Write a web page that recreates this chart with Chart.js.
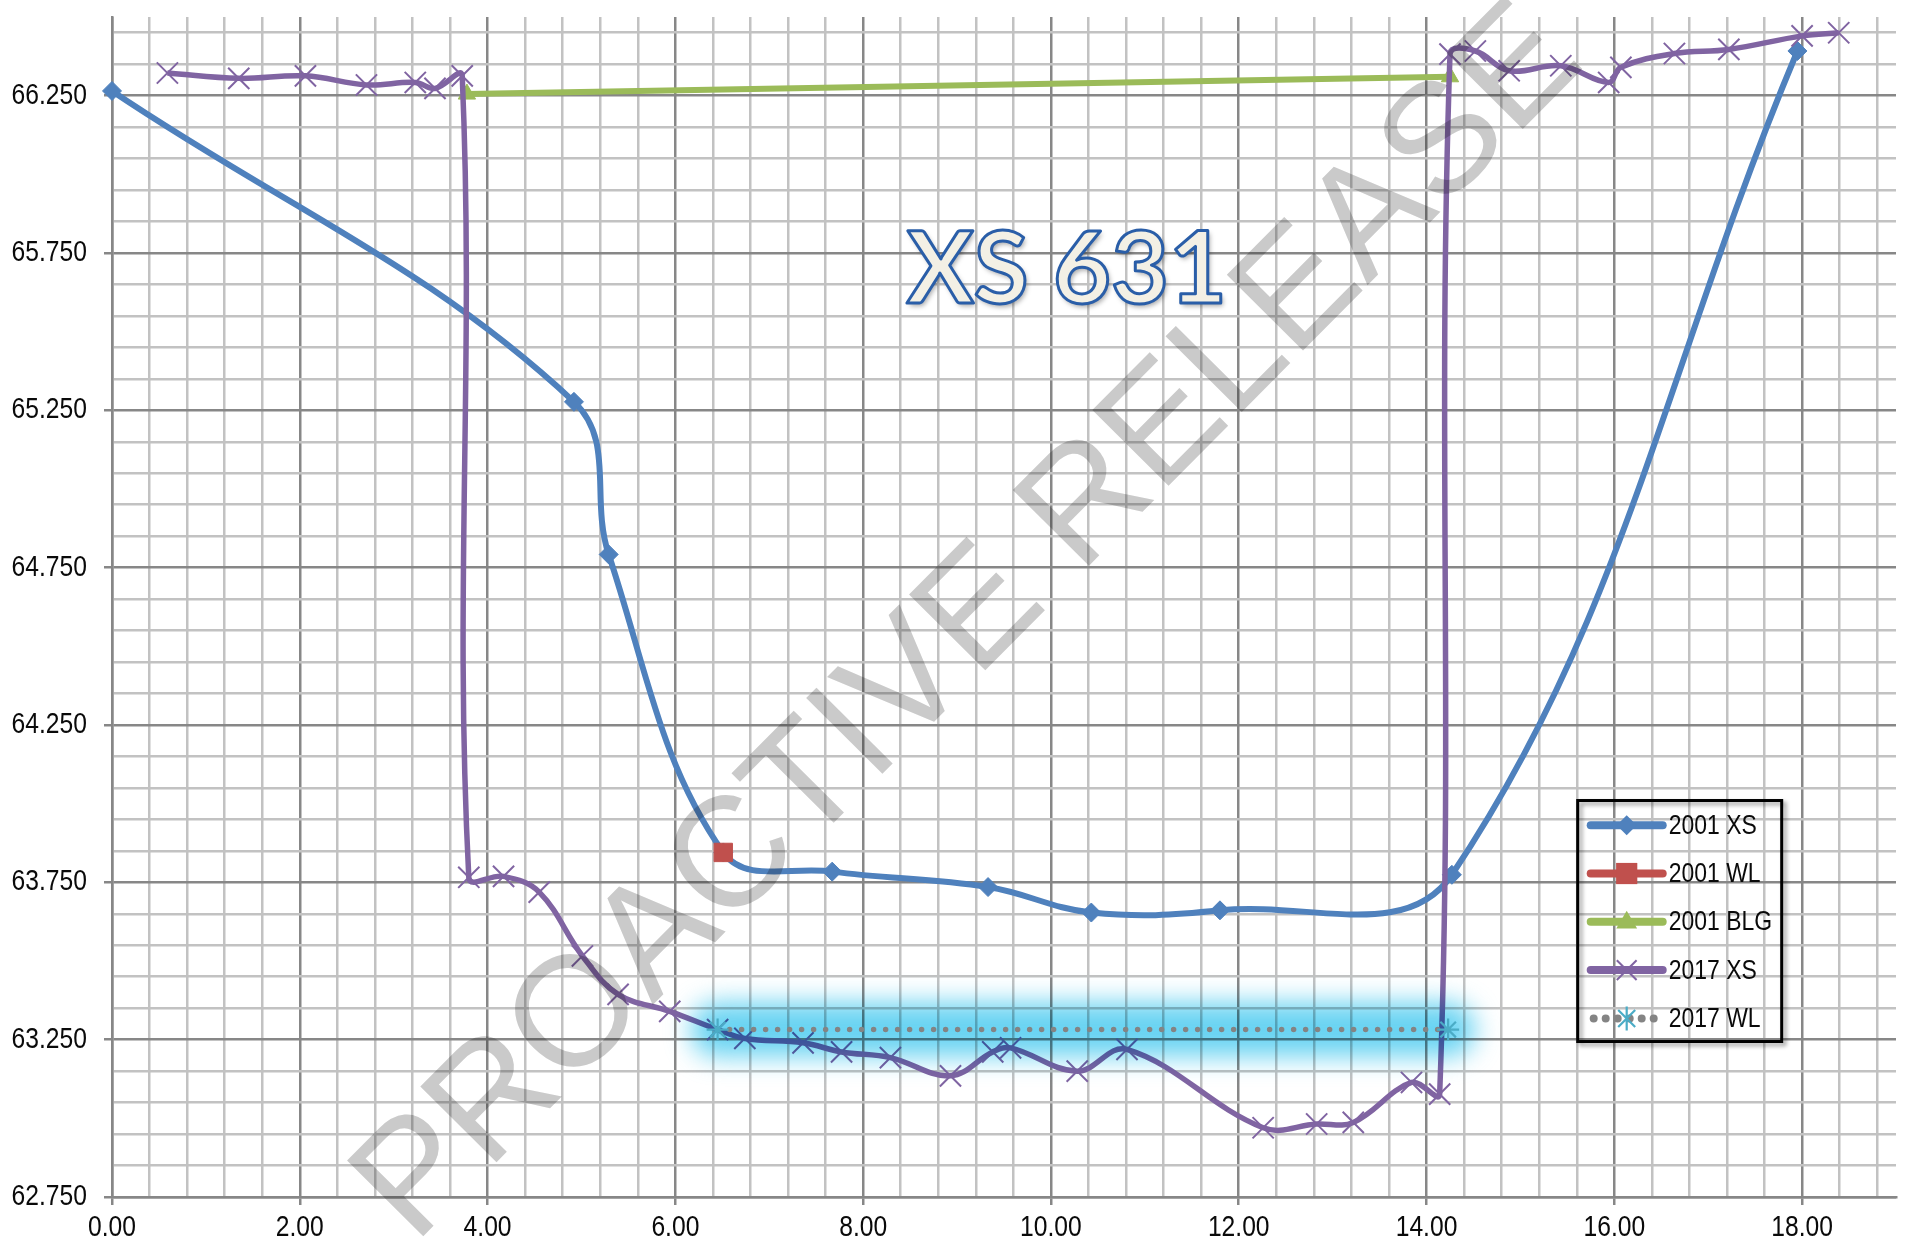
<!DOCTYPE html>
<html>
<head>
<meta charset="utf-8">
<title>XS 631</title>
<script src="https://cdn.jsdelivr.net/npm/chart.js@4.4.1/dist/chart.umd.min.js"></script>
<style>
    html, body { margin: 0; padding: 0; background: #ffffff; }
    #wrap { width: 1925px; height: 1248px; position: relative; }
</style>
</head>
<body>
<div id="wrap"><canvas id="grafico" width="1925" height="1248"></canvas></div>
<script>
// 2001 cross section (blue diamonds)
const xs2001X = [0.00, 4.92, 5.29, 6.51, 7.67, 9.33, 10.43, 11.80, 14.27, 17.95];
const xs2001Y = [66.265, 65.277, 64.792, 63.845, 63.784, 63.735, 63.654, 63.661, 63.774, 66.392];

// 2001 water level (red square)
const wl2001X = [6.51];
const wl2001Y = [63.845];

// 2001 bank level (green)
const blg2001X = [3.78, 14.25];
const blg2001Y = [66.255, 66.31];

// 2017 cross section (purple crosses)
const xs2017X = [0.59, 1.35, 2.06, 2.71, 3.23, 3.44, 3.73, 3.80, 4.17, 4.55, 5.01, 5.39, 5.94, 6.45,
    6.74, 7.36, 7.77, 8.29, 8.93, 9.38, 9.57, 10.28, 10.81, 12.26, 12.83, 13.22, 13.84, 14.14,
    14.25, 14.52, 14.88, 15.43, 15.94, 16.07, 16.64, 17.22, 18.00, 18.39];
const xs2017Y = [66.322, 66.305, 66.313, 66.284, 66.292, 66.273, 66.313, 63.766, 63.769, 63.719, 63.516, 63.394, 63.340, 63.282,
    63.254, 63.240, 63.211, 63.193, 63.135, 63.211, 63.224, 63.150, 63.219, 62.970, 62.982, 62.987, 63.114, 63.077,
    66.382, 66.392, 66.329, 66.345, 66.292, 66.340, 66.384, 66.397, 66.440, 66.450];

// 2017 water level (dotted)
const wl2017X = [6.45, 14.23];
const wl2017Y = [63.282, 63.282];

// eixos
const xTickLabels = ['0.00', '2.00', '4.00', '6.00', '8.00', '10.00', '12.00', '14.00', '16.00', '18.00'];
const yTickLabels = ['62.750', '63.250', '63.750', '64.250', '64.750', '65.250', '65.750', '66.250'];
const xMin = 0, xMax = 19, xMinorStep = 0.4;
const yMin = 62.75, yMax = 66.5, yMinorStep = 0.1;

const corMaior = '#878787';
const corMenor = '#c2c2c2';
const fonteTexto = "'Liberation Sans', Arial, sans-serif";

function pontos(xs, ys) {
    return xs.map((x, i) => ({ x: x, y: ys[i] }));
}

function ehMaior(valor, labels) {
    return labels.some(l => Math.abs(parseFloat(l) - valor) < 1e-6);
}

function montaTicks(min, max, passo) {
    const ticks = [];
    for (let k = 0; min + k * passo < max - 1e-6; k++) {
        ticks.push({ value: Math.round((min + k * passo) * 1e6) / 1e6 });
    }
    return ticks;
}

// texto estreito (a fonte do original e condensada)
function textoEstreito(ctx, texto, x, y, alinhamento, tamanho) {
    ctx.save();
    ctx.translate(x, y);
    ctx.scale(0.85, 1);
    ctx.font = tamanho + 'px ' + fonteTexto;
    ctx.fillStyle = '#0a0a0a';
    ctx.textAlign = alinhamento;
    ctx.textBaseline = 'middle';
    ctx.fillText(texto, 0, 0);
    ctx.restore();
}

function marcador(ctx, estilo, raio, x, y, cor, espessura) {
    ctx.save();
    ctx.fillStyle = cor;
    ctx.strokeStyle = cor;
    ctx.lineWidth = espessura;
    ctx.beginPath();
    if (estilo === 'rectRot') {
        ctx.moveTo(x, y - raio); ctx.lineTo(x + raio, y); ctx.lineTo(x, y + raio); ctx.lineTo(x - raio, y);
        ctx.closePath(); ctx.fill();
    } else if (estilo === 'rect') {
        const s = raio * Math.SQRT1_2;
        ctx.rect(x - s, y - s, 2 * s, 2 * s); ctx.fill();
    } else if (estilo === 'triangle') {
        ctx.moveTo(x, y - raio); ctx.lineTo(x + raio * 0.95, y + raio * 0.6); ctx.lineTo(x - raio * 0.95, y + raio * 0.6);
        ctx.closePath(); ctx.fill();
    } else if (estilo === 'crossRot') {
        const d = raio * Math.SQRT1_2;
        ctx.moveTo(x - d, y - d); ctx.lineTo(x + d, y + d);
        ctx.moveTo(x - d, y + d); ctx.lineTo(x + d, y - d);
        ctx.stroke();
    } else if (estilo === 'star') {
        const d = raio * Math.SQRT1_2;
        ctx.moveTo(x - d, y - d); ctx.lineTo(x + d, y + d);
        ctx.moveTo(x - d, y + d); ctx.lineTo(x + d, y - d);
        ctx.moveTo(x, y - raio); ctx.lineTo(x, y + raio);
        ctx.stroke();
    }
    ctx.restore();
}

const efeitos = {
    id: 'efeitos',
    beforeDatasetDraw(chart, args) {
        const ds = chart.data.datasets[args.index];
        if (ds.brilho) {
            chart.ctx.save();
            chart.ctx.filter = 'blur(13px)';
            chart.ctx.globalCompositeOperation = 'multiply';
        }
    },
    afterDatasetDraw(chart, args) {
        if (chart.data.datasets[args.index].brilho) chart.ctx.restore();
    },
    afterDatasetsDraw(chart) {
        const ctx = chart.ctx;
        const sx = chart.scales.x, sy = chart.scales.y;
        const area = chart.chartArea;

        // rotulos dos eixos
        xTickLabels.forEach(l => textoEstreito(ctx, l, sx.getPixelForValue(parseFloat(l)), area.bottom + 31, 'center', 29));
        yTickLabels.forEach(l => textoEstreito(ctx, l, area.left - 25, sy.getPixelForValue(parseFloat(l)), 'right', 29));

        // marca d'agua
        ctx.save();
        ctx.globalCompositeOperation = 'multiply';
        ctx.translate(sx.getPixelForValue(9.14), sy.getPixelForValue(64.57));
        ctx.rotate(-45.2 * Math.PI / 180);
        ctx.font = "156px " + fonteTexto;
        ctx.fillStyle = '#cacaca';
        ctx.textAlign = 'center';
        ctx.textBaseline = 'middle';
        ctx.fillText('PROACTIVE RELEASE', 0, 0);
        ctx.restore();

        // titulo
        ctx.save();
        ctx.font = "bold 100px Lato, 'Open Sans', sans-serif";
        ctx.textAlign = 'center';
        ctx.textBaseline = 'alphabetic';
        const tx = sx.getPixelForValue(10.17), ty = sy.getPixelForValue(65.59);
        ctx.shadowColor = 'rgba(0,0,0,0.35)';
        ctx.shadowBlur = 5;
        ctx.shadowOffsetX = 2;
        ctx.shadowOffsetY = 3;
        ctx.fillStyle = '#f3f0e5';
        ctx.fillText('XS 631', tx, ty);
        ctx.shadowColor = 'transparent';
        ctx.lineWidth = 3;
        ctx.strokeStyle = '#2a5ea8';
        ctx.lineJoin = 'round';
        ctx.strokeText('XS 631', tx, ty);
        ctx.restore();

        // legenda
        const esq = sx.getPixelForValue(15.61), topo = sy.getPixelForValue(64.01);
        const larg = 204, alt = 241;
        ctx.save();
        ctx.shadowColor = 'rgba(0,0,0,0.4)';
        ctx.shadowBlur = 4;
        ctx.shadowOffsetX = 3;
        ctx.shadowOffsetY = 3;
        ctx.lineWidth = 3;
        ctx.strokeStyle = '#000';
        ctx.strokeRect(esq, topo, larg, alt);
        ctx.restore();

        const itens = chart.data.datasets.filter(d => !d.brilho);
        itens.forEach((d, i) => {
            const cy = topo + 24.7 + i * 48.3;
            ctx.save();
            ctx.lineCap = 'round';
            ctx.strokeStyle = d.borderColor;
            ctx.lineWidth = 8;
            if (d.borderDash) {
                ctx.setLineDash([0, 12]);
                ctx.beginPath(); ctx.moveTo(esq + 16, cy); ctx.lineTo(esq + 85, cy); ctx.stroke();
            } else {
                ctx.beginPath(); ctx.moveTo(esq + 13, cy); ctx.lineTo(esq + 85, cy); ctx.stroke();
            }
            ctx.restore();
            marcador(ctx, d.pointStyle, d.legendaRaio, esq + 49, cy, d.pointBorderColor, d.pointBorderWidth);
            textoEstreito(ctx, d.label, esq + 91, cy + 1, 'left', 27);
        });
    }
};

const ctx = document.getElementById('grafico').getContext('2d');
const chart = new Chart(ctx, {
    type: 'line',
    data: {
        datasets: [
            {
                label: '2001 XS',
                data: pontos(xs2001X, xs2001Y),
                borderColor: '#4f81bd', backgroundColor: '#4f81bd',
                borderWidth: 6, tension: 0.38, clip: false,
                pointStyle: 'rectRot', pointRadius: 9.5, pointBorderColor: '#4f81bd', pointBackgroundColor: '#4f81bd', pointBorderWidth: 1,
                legendaRaio: 10, order: 6
            },
            {
                label: '2001 WL',
                data: pontos(wl2001X, wl2001Y),
                borderColor: '#c0504d', backgroundColor: '#c0504d',
                borderWidth: 6, clip: false,
                pointStyle: 'rect', pointRadius: 13, pointBorderColor: '#c0504d', pointBackgroundColor: '#c0504d', pointBorderWidth: 1,
                legendaRaio: 15, order: 5
            },
            {
                label: '2001 BLG',
                data: pontos(blg2001X, blg2001Y),
                borderColor: '#9bbb59', backgroundColor: '#9bbb59',
                borderWidth: 6, tension: 0, clip: false,
                pointStyle: 'triangle', pointRadius: 10, pointBorderColor: '#9bbb59', pointBackgroundColor: '#9bbb59', pointBorderWidth: 1,
                legendaRaio: 11, order: 4
            },
            {
                label: '2017 XS',
                data: pontos(xs2017X, xs2017Y),
                borderColor: '#8064a2', backgroundColor: '#8064a2',
                borderWidth: 5.5, tension: 0.38, clip: false,
                pointStyle: 'crossRot', pointRadius: 15, pointBorderColor: '#8064a2', pointBorderWidth: 2,
                legendaRaio: 14, order: 3
            },
            {
                label: '',
                brilho: true,
                data: pontos(wl2017X, wl2017Y),
                borderColor: 'rgba(40, 192, 236, 0.7)',
                borderWidth: 54, borderCapStyle: 'round', tension: 0,
                pointRadius: 0, order: 1
            },
            {
                label: '2017 WL',
                data: pontos(wl2017X, wl2017Y),
                borderColor: '#848484', backgroundColor: '#848484',
                borderWidth: 5.5, borderDash: [0, 12], borderCapStyle: 'round', tension: 0, clip: false,
                pointStyle: 'star', pointRadius: 11, pointBorderColor: '#4bacc6', pointBorderWidth: 2.2,
                legendaRaio: 12, order: 0
            }
        ]
    },
    options: {
        responsive: false,
        animation: false,
        events: [],
        layout: { padding: { top: 9, right: 29, left: 0, bottom: 0 } },
        plugins: {
            legend: { display: false },
            tooltip: { enabled: false },
            title: { display: false }
        },
        scales: {
            x: {
                type: 'linear',
                min: xMin, max: xMax,
                afterBuildTicks: axis => { axis.ticks = montaTicks(xMin, xMax, xMinorStep); },
                afterFit: axis => { axis.height = 51; axis.paddingLeft = 0; axis.paddingRight = 0; },
                border: { display: true, color: corMaior, width: 2.5 },
                grid: {
                    color: c => ehMaior(c.tick.value, xTickLabels) ? corMaior : corMenor,
                    lineWidth: 2.5,
                    tickLength: 8,
                    tickColor: c => ehMaior(c.tick.value, xTickLabels) ? corMaior : 'rgba(0,0,0,0)',
                    tickWidth: 2.5
                },
                ticks: { display: false, autoSkip: false }
            },
            y: {
                type: 'linear',
                min: yMin, max: yMax,
                afterBuildTicks: axis => { axis.ticks = montaTicks(yMin, yMax, yMinorStep); },
                afterFit: axis => { axis.width = 112; axis.paddingTop = 0; axis.paddingBottom = 0; },
                border: { display: true, color: corMaior, width: 2.5 },
                grid: {
                    color: c => ehMaior(c.tick.value, yTickLabels) ? corMaior : corMenor,
                    lineWidth: 2.5,
                    tickLength: 8,
                    tickColor: c => ehMaior(c.tick.value, yTickLabels) ? corMaior : 'rgba(0,0,0,0)',
                    tickWidth: 2.5
                },
                ticks: { display: false, autoSkip: false }
            }
        }
    },
    plugins: [efeitos]
});
</script>
</body>
</html>
